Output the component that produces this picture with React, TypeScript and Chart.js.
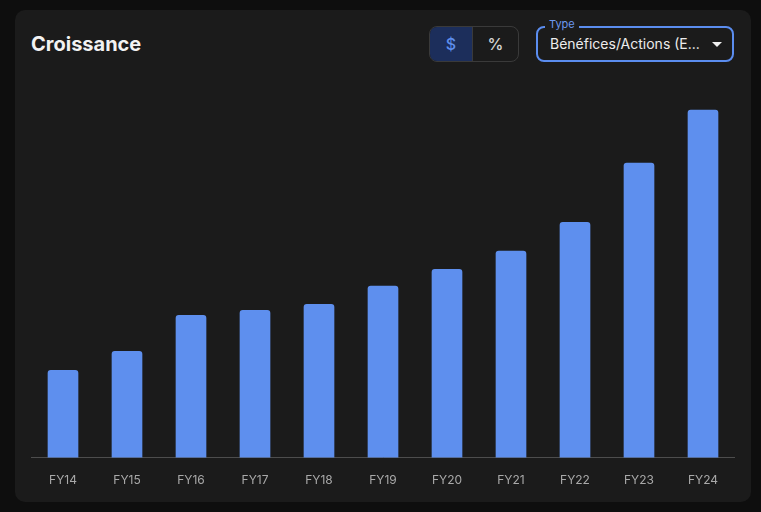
import React, { useEffect, useRef } from "react";
import { Chart, registerables } from "chart.js";

Chart.register(...registerables);

const categories = ["FY14", "FY15", "FY16", "FY17", "FY18", "FY19", "FY20", "FY21", "FY22", "FY23", "FY24"];
const epsValues = [2.49, 3.03, 4.06, 4.2, 4.37, 4.89, 5.37, 5.89, 6.71, 8.4, 9.91];
const yMax = 10;
const titleText = "Croissance";
const selectLabel = "Type";
const selectValue = "Bénéfices/Actions (E...";

const FONT = "Inter, 'Noto Sans', sans-serif";

export default function App() {
  const canvasRef = useRef<HTMLCanvasElement | null>(null);

  useEffect(() => {
    if (!canvasRef.current) return;
    const chart = new Chart(canvasRef.current, {
      type: "bar",
      data: {
        labels: categories,
        datasets: [
          {
            data: epsValues,
            backgroundColor: "#5e8fee",
            borderRadius: 3,
            borderSkipped: "bottom",
            barThickness: 30,
          },
        ],
      },
      options: {
        animation: false,
        responsive: false,
        maintainAspectRatio: false,
        layout: { padding: 0 },
        plugins: { legend: { display: false }, tooltip: { enabled: false } },
        scales: {
          x: {
            grid: { display: false, drawTicks: false },
            border: { color: "#4d4d4d", width: 1 },
            ticks: { color: "#a9a9a9", padding: 16, font: { family: FONT, size: 12 } },
          },
          y: { display: false, min: 0, max: yMax },
        },
      },
    });
    return () => chart.destroy();
  }, []);

  return (
    <div style={{ position: "fixed", inset: 0, background: "#0e0e0e", fontFamily: FONT }}>
      <div
        style={{
          position: "absolute",
          left: 15,
          top: 10,
          width: 736,
          height: 492,
          borderRadius: 10,
          background: "#1b1b1b",
        }}
      />
      <div
        style={{
          position: "absolute",
          left: 31,
          top: 32,
          fontSize: 20,
          lineHeight: "24px",
          fontWeight: 700,
          color: "#f2f2f2",
        }}
      >
        {titleText}
      </div>
      {/* toggle */}
      <div
        style={{
          position: "absolute",
          left: 429,
          top: 26,
          width: 88,
          height: 34,
          border: "1px solid #3a3a3a",
          borderRadius: 8,
          overflow: "hidden",
          display: "flex",
        }}
      >
        <div
          style={{
            width: 42,
            height: "100%",
            background: "#1c2e5b",
            color: "#5e8fee",
            display: "flex",
            alignItems: "center",
            justifyContent: "center",
            fontSize: 16,
            fontWeight: 500,
            borderRight: "1px solid #3a3a3a",
          }}
        >
          $
        </div>
        <div
          style={{
            flex: 1,
            display: "flex",
            alignItems: "center",
            justifyContent: "center",
            color: "#d6d6d6",
            fontSize: 16,
            fontWeight: 500,
          }}
        >
          %
        </div>
      </div>
      {/* select */}
      <div
        style={{
          position: "absolute",
          left: 536,
          top: 26,
          width: 194,
          height: 32,
          border: "2px solid #5b8def",
          borderRadius: 8,
        }}
      />
      <div
        style={{
          position: "absolute",
          left: 545,
          top: 18,
          padding: "0 4px",
          background: "#1b1b1b",
          color: "#6b98ee",
          fontSize: 11,
          lineHeight: "13px",
        }}
      >
        {selectLabel}
      </div>
      <div
        style={{
          position: "absolute",
          left: 550,
          top: 34,
          color: "#ececec",
          fontSize: 14,
          lineHeight: "20px",
          whiteSpace: "nowrap",
        }}
      >
        {selectValue}
      </div>
      <div
        style={{
          position: "absolute",
          left: 712,
          top: 42,
          width: 0,
          height: 0,
          borderLeft: "5px solid transparent",
          borderRight: "5px solid transparent",
          borderTop: "5px solid #f0f0f0",
        }}
      />
      <div style={{ position: "absolute", left: 31, top: 107, width: 704, height: 397 }}>
        <canvas ref={canvasRef} width={704} height={397} style={{ display: "block" }} />
      </div>
    </div>
  );
}
